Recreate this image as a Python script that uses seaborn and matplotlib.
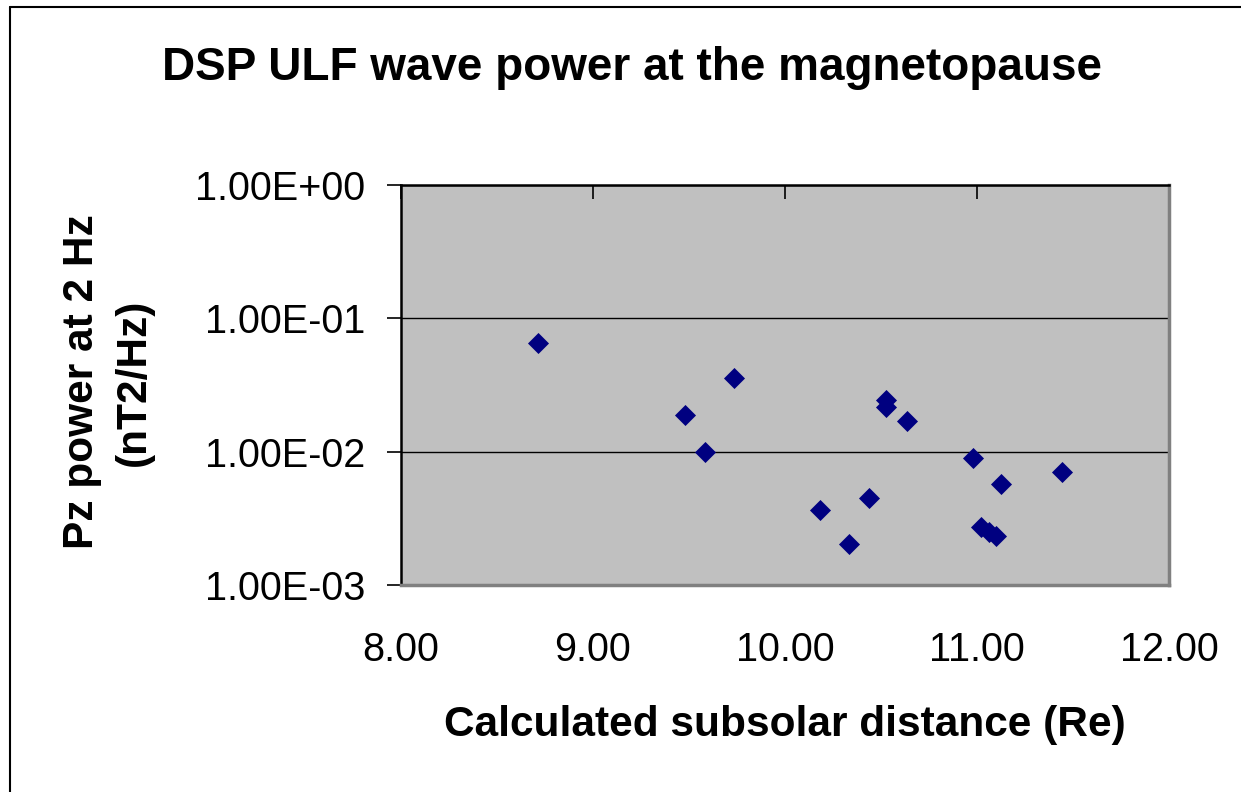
import matplotlib
matplotlib.use("Agg")
import matplotlib.pyplot as plt
import seaborn as sns
import pandas as pd
from matplotlib.lines import Line2D

# Data
distance = [8.715, 9.479, 9.583, 9.734, 10.182, 10.333, 10.438, 10.528, 10.528,
            10.634, 10.978, 11.023, 11.063, 11.100, 11.127, 11.441]
power = [0.065, 0.0188, 0.0099, 0.0359, 0.00367, 0.00202, 0.00449, 0.0244, 0.0215,
         0.0171, 0.0090, 0.00273, 0.00251, 0.00234, 0.00575, 0.0070]
x_ticks = [8, 9, 10, 11, 12]
x_tick_labels = ["8.00", "9.00", "10.00", "11.00", "12.00"]
y_ticks = [1e-3, 1e-2, 1e-1, 1e0]
y_tick_labels = ["1.00E-03", "1.00E-02", "1.00E-01", "1.00E+00"]
title = "DSP ULF wave power at the magnetopause"
x_label = "Calculated subsolar distance (Re)"
y_label = "Pz power at 2 Hz\n(nT2/Hz)"

df = pd.DataFrame({"distance": distance, "power": power})

sns.set_style("white")
plt.rcParams["font.family"] = ["Liberation Sans", "DejaVu Sans"]
plt.rcParams["text.color"] = "black"
plt.rcParams["axes.labelcolor"] = "black"
plt.rcParams["xtick.color"] = "black"
plt.rcParams["ytick.color"] = "black"

W, H = 1241, 792
fig = plt.figure(figsize=(W / 100, H / 100), dpi=100)
ax = fig.add_axes([401 / W, 1 - 585 / H, 768 / W, 400 / H])
ax.set_facecolor("#C0C0C0")

sns.scatterplot(data=df, x="distance", y="power", ax=ax, marker="D", s=115,
                color="#000080", edgecolor="#000080", linewidth=0, zorder=3)

ax.set_yscale("log")
ax.set_xlim(8, 12)
ax.set_ylim(1e-3, 1e0)
ax.set_xticks(x_ticks)
ax.set_xticklabels(x_tick_labels)
ax.set_yticks(y_ticks)
ax.set_yticklabels(y_tick_labels)
ax.yaxis.set_minor_locator(matplotlib.ticker.NullLocator())
ax.xaxis.set_minor_locator(matplotlib.ticker.NullLocator())

# grid lines at major y ticks
ax.yaxis.grid(True, color="black", linewidth=1.0, zorder=1)
ax.xaxis.grid(False)
ax.set_axisbelow(True)

# x ticks drawn at top pointing down, labels at bottom
ax.tick_params(axis="x", top=True, bottom=False, labeltop=False, labelbottom=True,
               direction="in", length=10, width=1.2, color="black", pad=33,
               labelsize=28.5, labelcolor="black")
ax.tick_params(axis="y", left=True, right=False, direction="out", length=10,
               width=1.2, color="black", pad=16, labelsize=28.5, labelcolor="black")

for side in ["left", "top"]:
    ax.spines[side].set_color("black")
    ax.spines[side].set_linewidth(1.8)
for side in ["right", "bottom"]:
    ax.spines[side].set_color("#808080")
    ax.spines[side].set_linewidth(2.5)

ax.set_xlabel(x_label, fontsize=30.5, fontweight="bold", color="black")
ax.xaxis.set_label_coords(0.5, -0.35)
ax.xaxis.label.set_va("center")

ax.set_ylabel(y_label, fontsize=30.5, fontweight="bold", linespacing=1.38,
              color="black")
ax.yaxis.set_label_coords((108 - 401) / 768, (585 - 382) / 400)
ax.yaxis.label.set_va("center")
ax.yaxis.label.set_ha("center")

fig.text(632 / W, 1 - 68 / H, title, ha="center", va="center",
         fontsize=33, fontweight="bold", color="black")

# outer chart frame (left and top edges visible in the reference)
fig.add_artist(Line2D([10 / W, 10 / W], [0, 1 - 6.5 / H], transform=fig.transFigure,
                      color="black", linewidth=1.5))
fig.add_artist(Line2D([10 / W, 1], [1 - 6.5 / H, 1 - 6.5 / H], transform=fig.transFigure,
                      color="black", linewidth=1.5))

fig.savefig("out.png", dpi=100, facecolor="white")
